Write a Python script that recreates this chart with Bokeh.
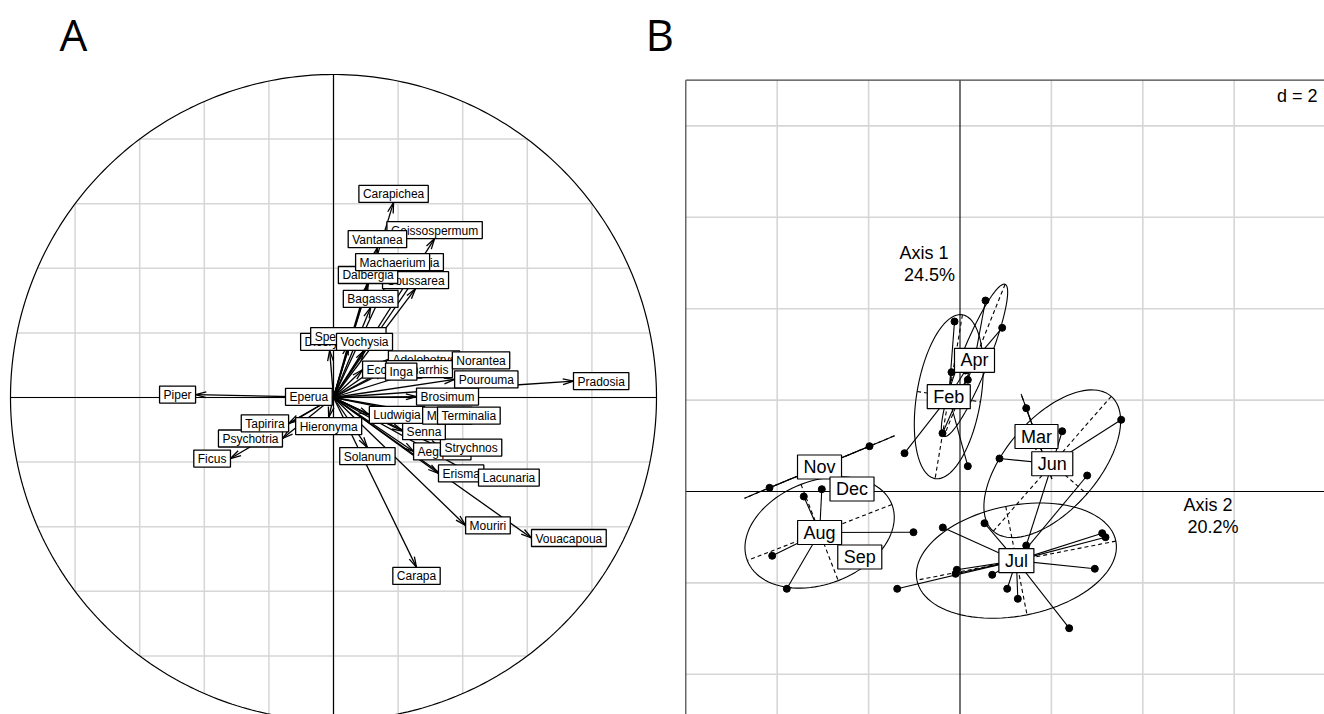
import numpy as np
from bokeh.plotting import figure
from bokeh.models import Range1d, ColumnDataSource
from bokeh.core.properties import value
from bokeh.embed import file_html
from bokeh.resources import INLINE

# ---------------- Panel A : correlation circle (genus loadings) ----------------
genus = ["Piper", "Ficus", "Psychotria", "Tapirira", "Eperua", "Hieronyma", "Solanum",
         "Carapa", "Mouriri", "Vouacapoua", "Erisma", "Lacunaria", "Aegiphila", "Strychnos",
         "Senna", "Ludwigia", "Miconia", "Terminalia", "Brosimum", "Pradosia", "Pourouma",
         "Ecclinusa", "Adelobotrys", "Chimarrhis", "Inga", "Norantea", "Dicorynia",
         "Spermacoce", "Vochysia", "Bagassa", "Coussarea", "Dalbergia", "Licania",
         "Machaerium", "Geissospermum", "Vantanea", "Carapichea"]
cor_ax1 = [-0.427, -0.319, -0.158, -0.139, -0.004, -0.015, 0.105,
           0.257, 0.409, 0.613, 0.325, 0.449, 0.248, 0.331,
           0.214, 0.111, 0.276, 0.322, 0.257, 0.743, 0.375,
           0.090, 0.170, 0.164, 0.161, 0.368, -0.012,
           0.046, 0.096, 0.115, 0.254, 0.107, 0.269,
           0.183, 0.313, 0.136, 0.186]
cor_ax2 = [0.009, -0.189, -0.127, -0.080, 0.002, -0.062, -0.155,
           -0.526, -0.396, -0.435, -0.235, -0.248, -0.167, -0.155,
           -0.104, -0.054, -0.056, -0.056, 0.003, 0.051, 0.056,
           0.086, 0.118, 0.088, 0.080, 0.115, 0.146,
           0.164, 0.146, 0.279, 0.337, 0.353, 0.393,
           0.393, 0.492, 0.464, 0.604]

# ---------------- Panel B : sample scores grouped by month ----------------
sample_month = (["Feb"] * 5 + ["Apr"] * 4 + ["Mar"] * 2 + ["Jun"] * 4 + ["Jul"] * 13 +
                ["Aug"] * 5 + ["Sep"] + ["Nov"] * 2 + ["Dec"])
score_ax1 = [-0.120, -0.186, -1.214, 0.171, 0.120,
             0.558, 0.923, 0.171, -0.383,
             1.449, 1.899,
             0.864, 3.527, 1.449, 2.236,
             -0.376, 0.536, 2.783, 3.112, 3.184, 2.950, 2.389, 1.265, 1.033, 0.705, -0.070, -0.098, -1.374,
             -3.418, -3.024, -4.109, -3.790, -1.018,
             -2.193,
             -1.980, -4.168,
             -2.363]
score_ax2 = [3.720, 2.611, 0.838, 0.554, 2.648,
             4.179, 3.582, 2.444, 1.276,
             1.823, 0.584,
             0.722, 1.569, -1.182, 1.319,
             -0.788, -0.694, 0.350, -0.912, -1.000, -1.691, -2.991, -2.348, -2.129, -1.823, -1.713, -1.801, -2.129,
             -0.109, 0.050, -1.407, -2.129, -0.891,
             -1.433,
             0.991, 0.081,
             0.055]
month_order = ["Feb", "Mar", "Apr", "Jun", "Jul", "Aug", "Sep", "Nov", "Dec"]
axis1_text = ["Axis 1", "24.5%"]
axis2_text = ["Axis 2", "20.2%"]
grid_step_b = 2

# ---------------- layout constants ----------------
W, H = 1324, 714
UA = 323.0                 # px per unit, panel A
OXA, OYA = 333.0, 397.0    # canvas position of panel A origin
UB = 45.7                  # px per unit, panel B
OXB, OYB = 959.5, 491.0    # canvas position of panel B origin

p = figure(width=W, height=H, output_backend="svg", toolbar_location=None,
           x_range=Range1d(-OXA / UA, (W - OXA) / UA),
           y_range=Range1d(-(H - OYA) / UA, OYA / UA),
           x_axis_location=None, y_axis_location=None,
           min_border=0, outline_line_color=None,
           background_fill_color="white", border_fill_color="white")
p.xgrid.visible = False
p.ygrid.visible = False
p.extra_x_ranges = {"b": Range1d(-OXB / UB, (W - OXB) / UB)}
p.extra_y_ranges = {"b": Range1d(-(H - OYB) / UB, OYB / UB)}

LIGHT = "#d6d6d6"
FONT = value("Liberation Sans")

# ===== Panel A =====
cc = np.round(np.arange(-1, 1.0001, 0.2), 10)
a1 = np.sqrt(np.clip(1 - cc ** 2, 0, None))
p.segment(x0=cc, y0=-a1, x1=cc, y1=a1, line_color=LIGHT, line_width=1.5)
p.segment(x0=-a1, y0=cc, x1=a1, y1=cc, line_color=LIGHT, line_width=1.5)
th = np.linspace(0, 2 * np.pi, 400)
p.line(np.cos(th), np.sin(th), line_color="black", line_width=1.2)
p.segment(x0=[-1, 0], y0=[0, -1], x1=[1, 0], y1=[0, 1], line_color="black", line_width=1.2)

vx = np.array(cor_ax1)
vy = np.array(cor_ax2)
p.segment(x0=np.zeros_like(vx), y0=np.zeros_like(vy), x1=vx, y1=vy,
          line_color="black", line_width=1.3)
# arrow heads (open, 15 degrees) only when the arrow is long enough
d0 = np.hypot(vx, vy)
hl = 11.0 / UA
keep = d0 > 2 * 8.6 / UA
ang = np.arctan2(vy, vx)
hx0, hy0, hx1, hy1 = [], [], [], []
for x1, y1, a in zip(vx[keep], vy[keep], ang[keep]):
    for s in (+1, -1):
        b = a + np.pi + s * np.radians(15)
        hx0.append(x1); hy0.append(y1)
        hx1.append(x1 + hl * np.cos(b)); hy1.append(y1 + hl * np.sin(b))
p.segment(x0=hx0, y0=hy0, x1=hx1, y1=hy1, line_color="black", line_width=1.3)

anchors = []
for x, y in zip(vx, vy):
    if x > y and x > -y:
        anchors.append("center_left")
    elif x > y and x <= -y:
        anchors.append("top_center")
    elif x <= y and x <= -y:
        anchors.append("center_right")
    else:
        anchors.append("bottom_center")
srcA = ColumnDataSource(dict(x=vx, y=vy, t=genus, anchor=anchors))
p.text(x="x", y="y", text="t", anchor="anchor", source=srcA,
       text_font=FONT, text_font_size="12px", text_color="black",
       text_align="center", text_baseline="middle",
       background_fill_color="white", border_line_color="black", border_line_width=1.3,
       padding=dict(left=4, right=4, top=2, bottom=1))

p.text(x=[(59 - OXA) / UA, (645 - OXA) / UA], y=[(OYA - 33) / UA] * 2, text=["A", "B"],
       text_font=value("Open Sans"), text_font_size="44px", text_color="black",
       text_align="left", text_baseline="alphabetic")

# ===== Panel B =====
bx0 = -6
bx1 = (W - OXB) / UB
by0 = -(H - OYB) / UB
by1 = 9
gx = [g for g in range(bx0 + grid_step_b, int(bx1) + 1, grid_step_b) if g != 0]
gy = [g for g in range(-4, by1, grid_step_b) if g != 0]
kb = dict(x_range_name="b", y_range_name="b")
p.segment(x0=gx, y0=[by0] * len(gx), x1=gx, y1=[by1] * len(gx), line_color=LIGHT, line_width=1.6, **kb)
p.segment(x0=[bx0] * len(gy), y0=gy, x1=[bx1] * len(gy), y1=gy, line_color=LIGHT, line_width=1.6, **kb)
p.segment(x0=[bx0, 0], y0=[0, by0], x1=[bx1, 0], y1=[0, by1], line_color="black", line_width=1.1, **kb)
p.segment(x0=[bx0, bx0], y0=[by0, by1], x1=[bx0, bx1], y1=[by1, by1], line_color="#444444", line_width=1.2, **kb)

sm = np.array(sample_month)
sx = np.array(score_ax1)
sy = np.array(score_ax2)


def ade4_ellipse(px, py, coeff=1.5, lig=100):
    mx, my = px.mean(), py.mean()
    vxx = ((px - mx) ** 2).mean()
    vyy = ((py - my) ** 2).mean()
    cxy = ((px - mx) * (py - my)).mean()
    if vxx == 0 and vyy == 0:
        return None
    delta = np.sqrt((vxx - vyy) ** 2 + 4 * cxy * cxy)
    l1 = (vxx + vyy + delta) / 2
    l2 = max(vxx + vyy - l1, 0)
    l1 = np.sqrt(max(l1, 0)); l2 = np.sqrt(l2)
    if abs(cxy) < 1e-10:
        a0, b0 = (1.0, 0.0) if vxx > vyy else (0.0, 1.0)
    else:
        a0 = 1.0
        b0 = (l1 * l1 - vxx) / cxy
        n = np.hypot(a0, b0)
        a0, b0 = a0 / n, b0 / n
    t = np.linspace(0, 2 * np.pi, lig + 1)
    c11 = coeff * a0 * l1; c12 = -coeff * b0 * l2
    c21 = coeff * b0 * l1; c22 = coeff * a0 * l2
    ex = mx + c11 * np.cos(t) + c12 * np.sin(t)
    ey = my + c21 * np.cos(t) + c22 * np.sin(t)
    segs = [(mx + c11, my + c21, mx - c11, my - c21), (mx + c12, my + c22, mx - c12, my - c22)]
    return ex, ey, segs


cen = {}
star_x0, star_y0, star_x1, star_y1 = [], [], [], []
ell_xs, ell_ys = [], []
dash = [[], [], [], []]
for m in month_order:
    mask = sm == m
    gxp, gyp = sx[mask], sy[mask]
    cx, cy = gxp.mean(), gyp.mean()
    cen[m] = (cx, cy)
    for a, b in zip(gxp, gyp):
        star_x0.append(cx); star_y0.append(cy); star_x1.append(a); star_y1.append(b)
    e = ade4_ellipse(gxp, gyp)
    if e is not None:
        ell_xs.append(list(e[0])); ell_ys.append(list(e[1]))
        for sg in e[2]:
            if np.hypot(sg[0] - sg[2], sg[1] - sg[3]) > 1e-9:
                for k in range(4):
                    dash[k].append(sg[k])

p.segment(x0=star_x0, y0=star_y0, x1=star_x1, y1=star_y1, line_color="black", line_width=1.1, **kb)
p.multi_line(xs=ell_xs, ys=ell_ys, line_color="black", line_width=1.1, **kb)
p.segment(x0=dash[0], y0=dash[1], x1=dash[2], y1=dash[3], line_color="black",
          line_width=1.1, line_dash="4 3", **kb)
p.scatter(x=sx, y=sy, size=7, marker="circle", fill_color="black", line_color="black", **kb)

p.text(x=[cen[m][0] for m in month_order], y=[cen[m][1] for m in month_order], text=month_order,
       anchor="center", text_align="center", text_baseline="middle",
       text_font=FONT, text_font_size="18px", text_color="black",
       background_fill_color="white", border_line_color="black", border_line_width=1.2,
       padding=dict(left=6, right=6, top=2, bottom=2), **kb)

p.text(x=[(899 - OXB) / UB, (903.5 - OXB) / UB], y=[(OYB - 252) / UB, (OYB - 274) / UB],
       text=axis1_text, text_font=FONT, text_font_size="18px", text_color="black",
       text_align="left", text_baseline="middle", **kb)
p.text(x=[(1183 - OXB) / UB, (1187 - OXB) / UB], y=[(OYB - 504) / UB, (OYB - 526) / UB],
       text=axis2_text, text_font=FONT, text_font_size="18px", text_color="black",
       text_align="left", text_baseline="middle", **kb)
p.text(x=[(1317 - OXB) / UB], y=[(OYB - 95) / UB], text=["d = %d" % grid_step_b],
       text_font=FONT, text_font_size="18px", text_color="black",
       text_align="right", text_baseline="middle", **kb)

open("out.html", "w").write(file_html(p, INLINE))
